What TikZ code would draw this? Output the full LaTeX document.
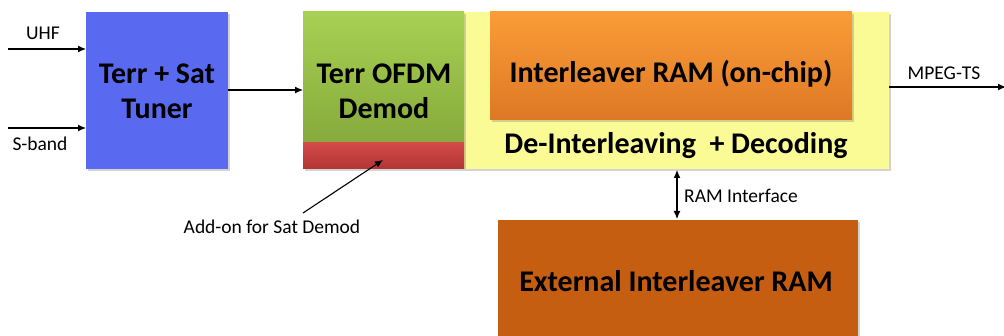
\documentclass[tikz,border=0pt]{standalone}
\usepackage{fontspec}
\setmainfont{Carlito}
\usetikzlibrary{shadows,arrows.meta}
\definecolor{tunerblue}{HTML}{5A6AF0}
\definecolor{greentop}{HTML}{A8D052}
\definecolor{greenbot}{HTML}{86AA3C}
\definecolor{redtop}{HTML}{D44A4A}
\definecolor{redbot}{HTML}{B23434}
\definecolor{yel}{HTML}{FBFB96}
\definecolor{orgtop}{HTML}{FA9C38}
\definecolor{orgbot}{HTML}{DE7824}
\definecolor{extorg}{HTML}{C65E12}
\tikzset{
  blk/.style={anchor=north west, inner sep=0pt, outer sep=0pt,
    drop shadow={shadow xshift=2pt, shadow yshift=-2pt, opacity=0.35}},
  big/.style={font=\fontsize{30}{35}\selectfont\bfseries, align=center, text=black},
  lbl/.style={font=\fontsize{19.5}{22}\selectfont, text=black, inner sep=1pt},
  conn/.style={-{Latex[length=8pt,width=7pt]}, line width=1.1pt},
}
\begin{document}
\begin{tikzpicture}[x=1pt,y=-1pt]
\useasboundingbox (0,0) rectangle (1004,336);
% yellow de-interleaving block
\node[blk, fill=yel, minimum width=425pt, minimum height=157pt] (yb) at (464,12) {};
\node[big] (ybt) at (676,146) {De-Interleaving\ \ + Decoding};
% on-chip RAM
\node[blk, top color=orgtop, bottom color=orgbot, minimum width=362pt, minimum height=108pt] (oc) at (490,12) {};
\node[big] at (671,74) {Interleaver RAM (on-chip)};
% tuner
\node[blk, fill=tunerblue, minimum width=142pt, minimum height=157pt] (tu) at (86,12) {};
\node[big] at (157,91) {Terr + Sat\\Tuner};
% demod
\node[blk, top color=greentop, bottom color=greenbot, minimum width=161pt, minimum height=131pt] (dm) at (303,12) {};
\node[big] at (384,91) {Terr OFDM\\Demod};
\node[blk, top color=redtop, bottom color=redbot, minimum width=161pt, minimum height=26pt] (rd) at (303,143) {};
% external RAM
\node[blk, fill=extorg, minimum width=360pt, minimum height=125pt] (ext) at (498,220) {};
\node[big] at (676,281) {External Interleaver RAM};
% inputs
\coordinate (uhfs) at (8,49);
\coordinate (sbs) at (8,128);
\draw[conn] (uhfs) -- (uhfs -| tu.west);
\node[lbl] (uhf) at (43,33) {UHF};
\draw[conn] (sbs) -- (sbs -| tu.west);
\node[lbl] (sb) at (40,144) {S-band};
% tuner -> demod
\draw[conn] (tu.east |- 0,90) -- (dm.west |- 0,90);
% output
\coordinate (outend) at (1006,87);
\draw[conn] (yb.east |- outend) -- (outend);
\node[lbl] (mp) at (944,73) {MPEG-TS};
% RAM interface
\draw[{Latex[length=8pt,width=7pt]}-{Latex[length=8pt,width=7pt]}, line width=1.1pt] (677,170) -- (677,219);
\node[lbl, anchor=west] (ri) at (683,196) {RAM Interface};
% add-on
\node[lbl] (ad) at (272,227) {Add-on for Sat Demod};
\coordinate (adtail) at (303,213);
\draw[conn] (adtail) -- (383,160);
\end{tikzpicture}
\end{document}
